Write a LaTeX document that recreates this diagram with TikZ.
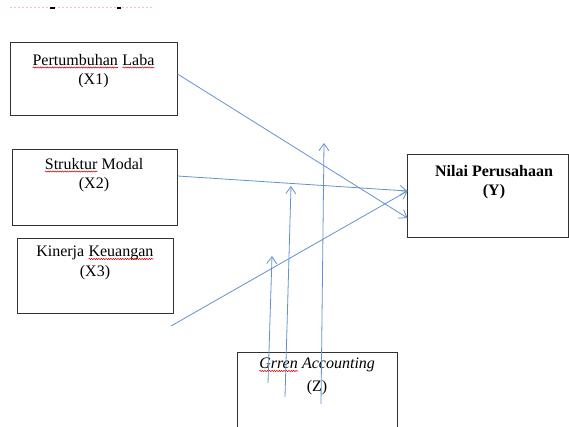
\documentclass[tikz,border=0pt]{standalone}
\usepackage{fontspec}
\setmainfont{Liberation Serif}
\usetikzlibrary{arrows.meta,calc,decorations.pathmorphing}
\definecolor{arrowblue}{RGB}{98,146,208}
\definecolor{boxgray}{RGB}{50,50,50}
\newcommand\redwave[1]{\tikz[baseline=(w.base)]{\node[inner sep=0pt,outer sep=0pt] (w) {#1};\draw[red!85!black,line width=0.55pt,decorate,decoration={snake,amplitude=0.6pt,segment length=2.4pt}] ([yshift=-2.2pt]w.base west) -- ([yshift=-2.2pt]w.base east);}}
\tikzset{
  box/.style={draw=boxgray,line width=1pt,inner sep=0pt},
  boxtext/.style={anchor=north,inner sep=0pt,align=center,font=\fontsize{16}{19.5}\selectfont},
  conn/.style={draw=arrowblue,line width=0.8pt,-{Straight Barb[length=7pt,width=10pt]}}
}
\begin{document}
\begin{tikzpicture}[x=1pt,y=-1pt]
\useasboundingbox (0,0) rectangle (569,427);
% remnant of cut-off text at the top
\draw[red!25,line width=1pt,dash pattern=on 2pt off 2pt] (10,8) -- (152,8);
\draw[black,line width=1.2pt] (50,8) -- (55,8);
\draw[black,line width=1.2pt] (117,8) -- (121,8);
% boxes
\node[box,minimum width=167pt,minimum height=73pt] (X1) at (93.5,79.5) {};
\node[box,minimum width=165pt,minimum height=76pt] (X2) at (94.5,188) {};
\node[box,minimum width=156pt,minimum height=74pt] (X3) at (95,276) {};
\node[box,minimum width=161pt,minimum height=83pt] (Y) at (487.5,196.5) {};
\node[inner sep=0pt,minimum width=159pt,minimum height=74pt] (Z) at (317.5,390) {};
\draw[boxgray,line width=1pt] (Z.south west) -- (Z.north west) -- (Z.north east) -- (Z.south east);
% texts
\node[boxtext] (t1) at (93.5,54) {\redwave{Pertumbuhan} \redwave{Laba}\\(X1)};
\node[boxtext] (t2) at (94,158) {\redwave{Struktur} Modal\\(X2)};
\node[boxtext] (t3) at (95,246) {Kinerja \redwave{Keuangan}\\(X3)};
\node[boxtext,font=\fontsize{16}{19.5}\selectfont\bfseries] (t4) at (494,165) {Nilai Perusahaan\\(Y)};
\node[boxtext,font=\fontsize{16}{22.5}\selectfont] (t5) at (317,358) {\textit{\redwave{Grren} Accounting}\\(Z)};
% free ends
\coordinate (c3) at (171,326);
\coordinate (v1s) at (268,383);
\coordinate (v1e) at (272,256);
\coordinate (v2s) at (285,397);
\coordinate (v2e) at (291,186);
\coordinate (v3s) at (321,404);
\coordinate (v3e) at (324,143);
% connectors
\draw[conn] ([yshift=5.5pt]X1.east) -- ([xshift=1pt,yshift=-21.5pt]Y.west);
\draw[conn] ([yshift=12pt]X2.east) -- ([xshift=1pt,yshift=5.5pt]Y.west);
\draw[conn] (c3) -- ([xshift=1pt,yshift=5.5pt]Y.west);
\draw[conn] (v1s) -- (v1e);
\draw[conn] (v2s) -- (v2e);
\draw[conn] (v3s) -- (v3e);
\end{tikzpicture}
\end{document}
